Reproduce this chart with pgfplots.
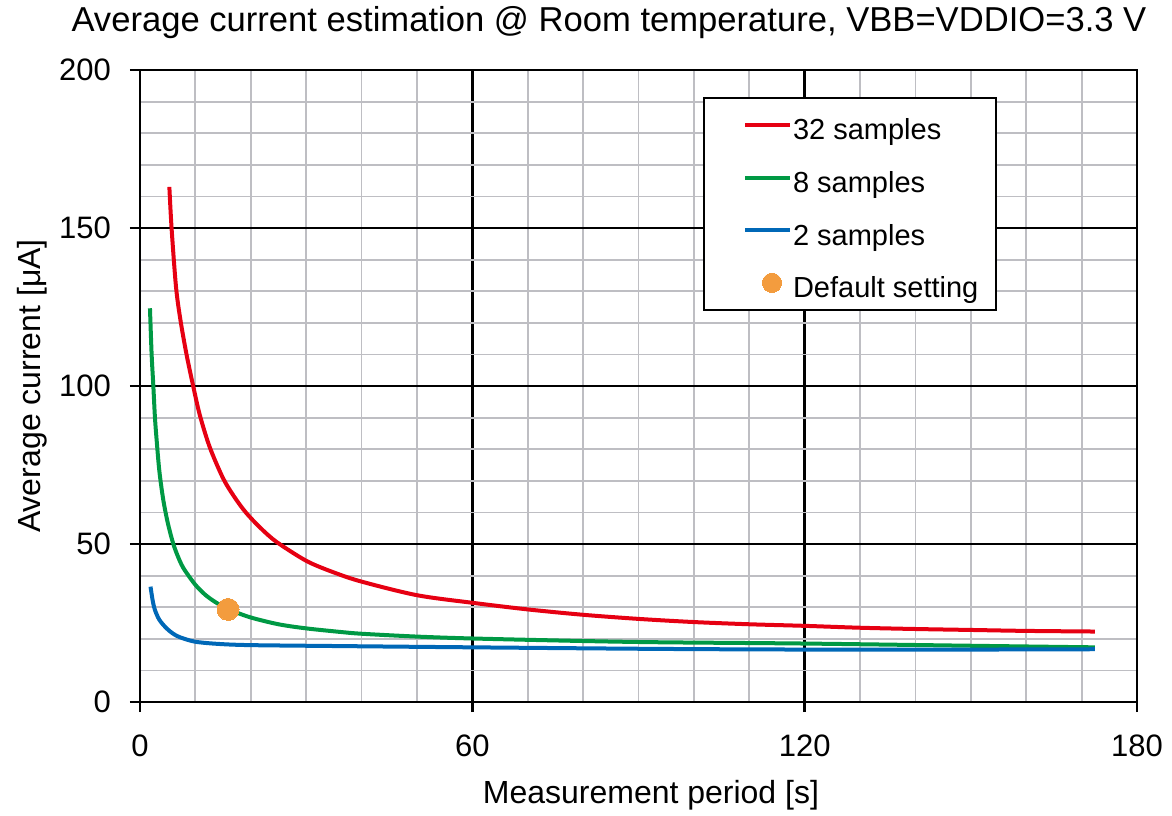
\documentclass[border=0pt]{standalone}
\usepackage{fontspec}
\setmainfont{Liberation Sans}
\usepackage{pgfplots}
\pgfplotsset{compat=1.18}

\definecolor{cred}{RGB}{230,0,18}
\definecolor{cgreen}{RGB}{0,153,68}
\definecolor{cblue}{RGB}{0,104,183}
\definecolor{corange}{RGB}{243,156,62}
\definecolor{cgrid}{RGB}{190,190,195}

\pgfplotsset{
    lineleg/.style={legend image code/.code={\path (-10.5pt,0pt); \draw[##1] (0pt,0pt) -- (22.5pt,0pt); \path (23pt,0pt);}},
    dotleg/.style={legend image code/.code={\path (-10.5pt,0pt); \path (23pt,0pt); \draw[##1, mark size=4.8pt] plot coordinates {(13.5pt,0pt)};}},
}

\begin{document}
\begin{tikzpicture}
\useasboundingbox (-70pt,-56.5pt) rectangle (516pt,351pt);
\begin{axis}[
    scale only axis,
    width=498.5pt, height=316pt,
    xmin=0, xmax=180,
    ymin=0, ymax=200,
    xtick={0,60,120,180},
    ytick={0,50,100,150,200},
    minor x tick num=5,
    minor y tick num=4,
    grid=both,
    major grid style={black, line width=1.2pt},
    minor grid style={cgrid, line width=0.9pt},
    axis line style={black, line width=1.4pt},
    tick align=outside,
    xtick pos=bottom, ytick pos=left,
    major tick length=5pt, minor tick length=0pt,
    tick style={black, line width=1.2pt},
    /pgf/number format/assume math mode=true,
    ticklabel style={font=\fontsize{15.5}{18}\selectfont},
    xticklabel style={yshift=-8pt},
    yticklabel style={xshift=-6pt},
    label style={font=\fontsize{16}{19}\selectfont},
    xlabel={Measurement period [s]},
    ylabel={Average current [μA]},
    xlabel style={at={(axis description cs:0.5125,-0.147)}, anchor=center},
    ylabel style={at={(axis description cs:-0.1083,0.5)}, anchor=center},
    title={Average current estimation @ Room temperature, VBB=VDDIO=3.3 V},
    title style={font=\fontsize{17.3}{20}\selectfont, at={(axis description cs:0.4704,1.0554)}, anchor=center, yshift=0pt},
    legend style={
        at={(0.5647,0.957)}, anchor=north west,
        draw=black, line width=1pt,
        inner xsep=9pt, inner ysep=3pt,
        row sep=5.4pt,
        font=\fontsize{14.5}{17}\selectfont,
        nodes={inner sep=0pt, text height=17.9pt, text depth=3pt},
    },
    legend cell align=left,
]
\addplot[cred, line width=2pt, smooth, tension=0.5, lineleg]
coordinates {
(5.3,163) (5.7,150) (6.5,131.4) (7.3,120.9) (8.4,110) (9.6,100) (10.8,90.8)
(12.6,80.6) (15,70.8) (17,65) (19.1,60) (21.8,55) (24.7,50.6) (30.1,44.6)
(35,41) (40,38.1) (50,33.8) (60,31.4) (70,29.3) (80,27.6) (90,26.3)
(100,25.3) (110,24.6) (120,24.1) (130,23.5) (140,23.1) (150,22.8) (160,22.5)
(172.4,22.3)
};
\addlegendentry{32 samples}

\addplot[cgreen, line width=2pt, smooth, tension=0.5, lineleg]
coordinates {
(1.8,124.6) (2.1,110) (2.4,100.3) (2.7,90) (3.0,83) (3.5,73) (4.2,64)
(5.0,56.8) (5.9,50.7) (6.7,46.7) (7.8,42.5) (9.9,37.3) (11.8,33.9) (13.8,31.4)
(15.9,29.4) (19.9,26.8) (25,24.6) (30,23.3) (36,22.2) (40,21.6) (50,20.7)
(60,20.1) (80,19.3) (94,18.9) (120,18.5) (150,17.8) (172.4,17.3)
};
\addlegendentry{8 samples}

\addplot[cblue, line width=2pt, smooth, tension=0.5, lineleg]
coordinates {
(1.9,36.5) (2.3,32) (2.7,29.1) (3.5,26) (4.8,23.3) (6,21.6) (7.2,20.5)
(9.9,19.1) (14,18.4) (19.9,18.0) (36,17.7) (60,17.3) (94,16.8) (120,16.6)
(150,16.6) (172.4,16.7)
};
\addlegendentry{2 samples}

\addplot[only marks, mark=*, mark size=5.5pt,
    mark options={draw=corange, fill=corange, line width=0pt}, dotleg]
coordinates {(15.9,29.3)};
\addlegendentry{Default setting}
\end{axis}
\end{tikzpicture}
\end{document}
